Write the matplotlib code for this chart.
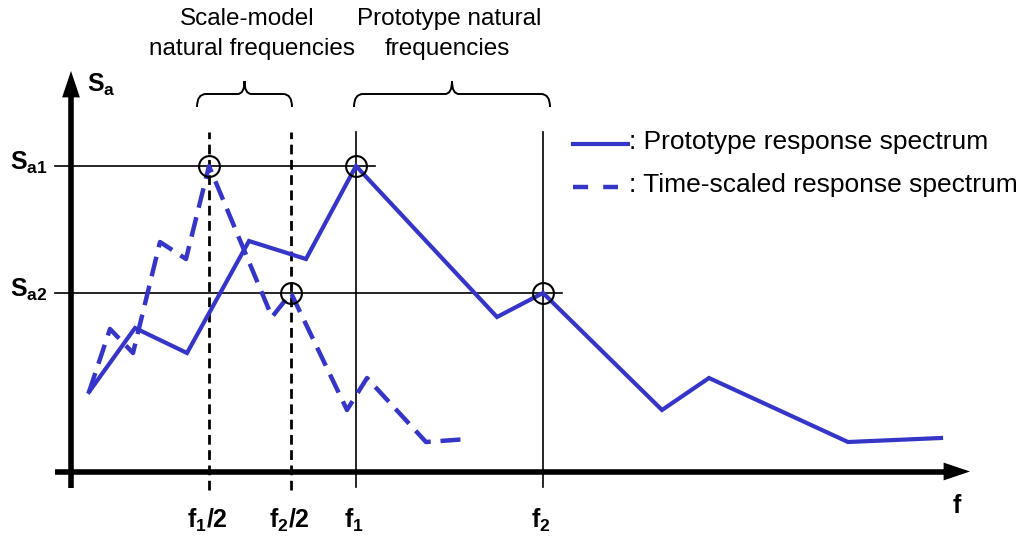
import matplotlib
matplotlib.use("Agg")
import matplotlib.pyplot as plt
from matplotlib.path import Path
from matplotlib.patches import PathPatch

plt.rcParams['font.family'] = ['Liberation Sans', 'DejaVu Sans']
plt.rcParams['mathtext.fontset'] = 'custom'
plt.rcParams['mathtext.rm'] = 'Liberation Sans'
plt.rcParams['mathtext.bf'] = 'Liberation Sans:bold'

# spectrum shapes (arbitrary units: f along x, Sa up)
proto_f = [18, 64, 116, 178, 235, 285, 426, 472, 591, 638, 777, 870]
proto_sa = [78, 142, 117, 229, 211, 304, 153, 177, 60, 92, 28, 32]
scaled_f = [18, 39, 62, 89, 115, 138, 201, 220, 276, 296, 355, 397]
scaled_sa = [78, 141, 117, 228, 211, 304, 153, 177, 60, 92, 28, 31]

# marked frequencies and levels
f_half = [138, 220]
f_full = [285, 472]
f_labels = [r'$\mathbf{f_1/2}$', r'$\mathbf{f_2/2}$', r'$\mathbf{f_1}$', r'$\mathbf{f_2}$']
sa1, sa2 = 304, 177

blue = '#3535c9'

fig = plt.figure(figsize=(10.29, 5.42), dpi=100)
ax = fig.add_axes([0, 0, 1, 1])
ax.set_xlim(-71, 958)
ax.set_ylim(-72, 470)
ax.axis('off')

# axes with arrows
head = dict(arrowstyle='-|>,head_length=0.95,head_width=0.32', lw=0,
            color='black', mutation_scale=20, shrinkA=0, shrinkB=0)
ax.plot([0, 0], [-18, 375], color='black', lw=4, solid_capstyle='butt')
ax.annotate('', xy=(0, 399), xytext=(0, 370), arrowprops=head)
ax.plot([-16, 874], [-1.5, -1.5], color='black', lw=4, solid_capstyle='butt')
ax.annotate('', xy=(899, -1.5), xytext=(869, -1.5), arrowprops=head)

# reference lines
ax.plot([-16, 304], [sa1, sa1], color='black', lw=1.2)
ax.plot([-16, 491], [sa2, sa2], color='black', lw=1.2)
for f in f_half:
    ax.plot([f, f], [-20, 338], color='black', lw=2, ls=(0, (3.5, 2)))
for f in f_full:
    ax.plot([f, f], [-17, 338], color='black', lw=1.2)

# spectra
ax.plot(proto_f, proto_sa, color=blue, lw=3, solid_joinstyle='miter')
ax.plot(scaled_f, scaled_sa, color=blue, lw=3.2, ls=(0, (4.5, 2.2)))

# natural frequency markers
for f, s in [(f_half[0], sa1), (f_full[0], sa1), (f_half[1], sa2), (f_full[1], sa2)]:
    ax.plot(f, s, 'o', ms=15, mfc='none', mec='black', mew=1.5)

# tick labels
for f, lab in zip(f_half + f_full, f_labels):
    ax.text(f - 2, -58, lab, ha='center', va='baseline', fontsize=18)
ax.text(886, -43, r'$\mathbf{f}$', ha='center', va='baseline', fontsize=18)
ax.text(-61, sa1 - 4, r'$\mathbf{S_{a1}}$', ha='left', va='baseline', fontsize=18)
ax.text(-61, sa2 - 4, r'$\mathbf{S_{a2}}$', ha='left', va='baseline', fontsize=18)
ax.text(16, 378, r'$\mathbf{S_a}$', ha='left', va='baseline', fontsize=18)

# braces
def brace(x0, x1, y0, ytop):
    xm = (x0 + x1) / 2
    yh = y0 + 13
    r = 9
    verts = [(x0, y0), (x0, yh), (x0 + r, yh),
             (xm - 7, yh), (xm, yh), (xm, ytop),
             (xm, yh), (xm + 7, yh),
             (x1 - r, yh), (x1, yh), (x1, y0)]
    codes = [Path.MOVETO, Path.CURVE3, Path.CURVE3,
             Path.LINETO, Path.CURVE3, Path.CURVE3,
             Path.CURVE3, Path.CURVE3,
             Path.LINETO, Path.CURVE3, Path.CURVE3]
    ax.add_patch(PathPatch(Path(verts, codes), fc='none', ec='black', lw=1.4))

brace(126, 221, 363, 389)
brace(283, 479, 363, 389)

ax.text(176, 451, 'Scale-model', ha='center', va='center', fontsize=17.5)
ax.text(181, 421, 'natural frequencies', ha='center', va='center', fontsize=17.5)
ax.text(378, 451, 'Prototype natural', ha='center', va='center', fontsize=17.5)
ax.text(376, 421, 'frequencies', ha='center', va='center', fontsize=17.5)

# legend
ax.plot([502, 557], [326, 326], color=blue, lw=3)
ax.plot([502, 547], [283, 283], color=blue, lw=3.2, ls=(0, (3.4, 3.4)))
ax.text(558, 321, ': Prototype response spectrum', ha='left', va='baseline', fontsize=19)
ax.text(558, 278, ': Time-scaled response spectrum', ha='left', va='baseline', fontsize=19)

fig.savefig('out.png', dpi=100)
